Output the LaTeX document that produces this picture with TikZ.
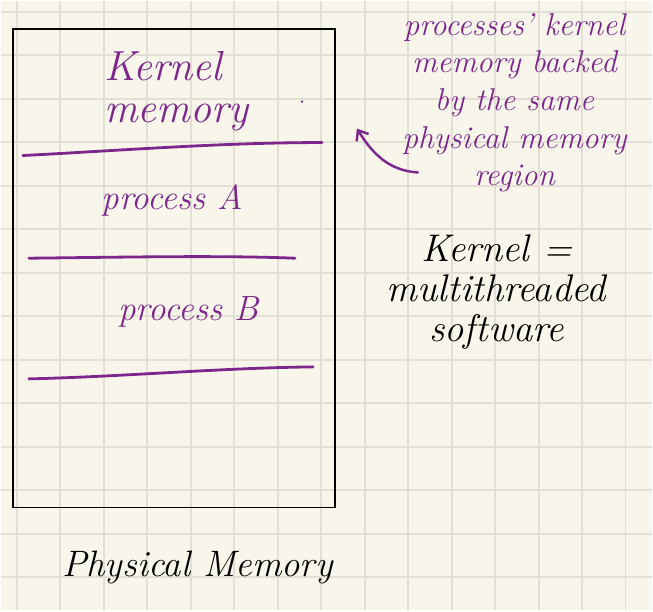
\documentclass[tikz,border=0pt]{standalone}
\usetikzlibrary{calc, arrows.meta}
\usepackage{xcolor}
\definecolor{violeta}{RGB}{125,38,140}
\definecolor{papel}{RGB}{248,246,235}
\definecolor{quadro}{RGB}{226,224,212}

\begin{document}
\begin{tikzpicture}[x=0.02cm, y=-0.02cm,
		tinta/.style={violeta, line width=1.6pt, line cap=round},
		escrita/.style={text=violeta, font=\itshape\fontsize{20}{22}\selectfont, inner sep=0pt},
		preta/.style={text=black, font=\itshape\fontsize{22}{23}\selectfont, inner sep=0pt}]
			% folha quadriculada
			\fill[papel] (0,0) rectangle (653,611);%
			\foreach \k in {0,...,14}
				\draw[quadro, line width=1.1pt] ({16+43.6*\k},0) -- ({16+43.6*\k},611);%
			\foreach \k in {0,...,13}
				\draw[quadro, line width=1.1pt] (0,{11+43.6*\k}) -- (653,{11+43.6*\k});%
			%
			% memoria fisica
			\draw[black, line width=0.9pt] (12,28) rectangle (335,508);%
			\node[escrita, font=\itshape\fontsize{24}{24}\selectfont, align=left, anchor=north west] (kernelmem) at (103,50) {Kernel\\memory};%
			\fill[violeta] (302,101) circle (1.3);%
			\draw[tinta] (22,155) .. controls (120,150) and (220,142) .. (322,142);%
			\node[escrita] (procA) at (172,200) {process A};%
			\draw[tinta] (28,258) .. controls (120,257) and (220,255) .. (295,258);%
			\node[escrita] (procB) at (188,312) {process B};%
			\draw[tinta] (28,379) .. controls (120,377) and (220,368) .. (313,367);%
			\node[preta, font=\itshape\fontsize{21}{22}\selectfont] (physmem) at (197,568) {Physical Memory};%
			%
			% anotacoes
			\node[escrita, font=\itshape\fontsize{18}{21.5}\selectfont, align=center, anchor=north] (nota) at (515,12)
				{processes' kernel\\memory backed\\by the same\\physical memory\\region};%
			\coordinate (setaini) at (418,172);%
			\coordinate (setafim) at (357,128);%
			\draw[tinta, line width=1.4pt, -{Straight Barb[length=5pt,width=8pt]}] (setaini) .. controls (388,170) and (372,152) .. (setafim);%
			\node[preta, align=center] (kerneldef) at (497,292) {Kernel =\\multithreaded\\software};%
		\end{tikzpicture}
\end{document}
